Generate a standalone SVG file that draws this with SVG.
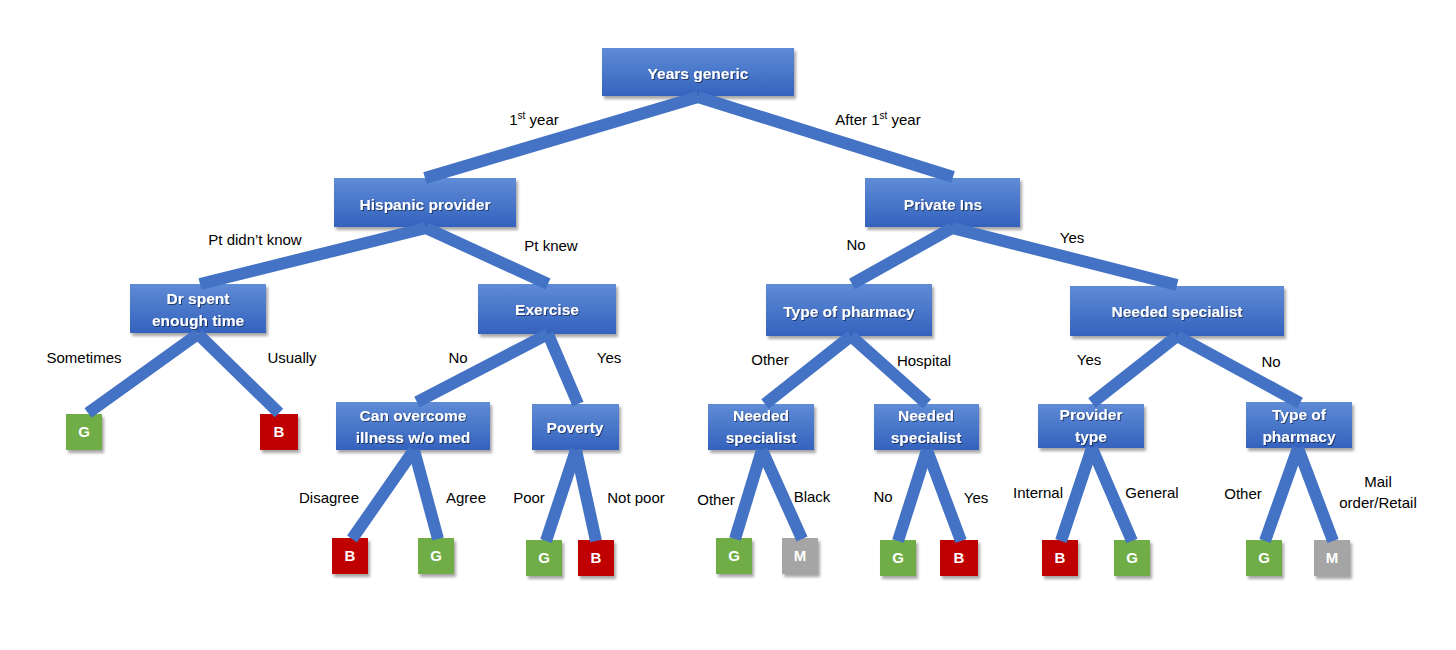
<svg xmlns="http://www.w3.org/2000/svg" width="1456" height="650" viewBox="0 0 1456 650">
<defs>
<linearGradient id="bg" x1="0" y1="0" x2="0" y2="1">
<stop offset="0" stop-color="#5F8BD6"/>
<stop offset="1" stop-color="#3462BD"/>
</linearGradient>
<filter id="sh" x="-10%" y="-10%" width="130%" height="140%">
<feDropShadow dx="2" dy="3" stdDeviation="1.5" flood-color="#000" flood-opacity="0.35"/>
</filter>
<filter id="ts" x="-5%" y="-20%" width="115%" height="150%">
<feDropShadow dx="1" dy="1" stdDeviation="0.6" flood-color="#000" flood-opacity="0.5"/>
</filter>
</defs>
<style>
.box{fill:url(#bg);filter:url(#sh)}
.g{fill:#70AD47;filter:url(#sh)}
.r{fill:#C00000;filter:url(#sh)}
.m{fill:#A5A5A5;filter:url(#sh)}
.nt{font-family:"Liberation Sans",Arial,sans-serif;font-weight:bold;font-size:15.5px;fill:#fff;text-anchor:middle;filter:url(#ts)}
.lt{font-family:"Liberation Sans",Arial,sans-serif;font-weight:bold;font-size:15px;fill:#fff;text-anchor:middle}
.lbl{font-family:"Liberation Sans",Arial,sans-serif;font-size:15px;fill:#000;text-anchor:middle}
.c line{stroke:#4472C4;stroke-width:12}
</style>
<rect width="1456" height="650" fill="#fff"/>

<g id="n-root"><rect class="box" x="602" y="48" width="192" height="48"/><text class="nt" x="698" y="79">Years generic</text></g>
<g id="n-hisp"><rect class="box" x="334" y="178" width="182" height="49"/><text class="nt" x="425" y="210">Hispanic provider</text></g>
<g id="n-priv"><rect class="box" x="865" y="178" width="155" height="49"/><text class="nt" x="943" y="210">Private Ins</text></g>
<g id="n-dr"><rect class="box" x="130" y="284" width="136" height="49"/><text class="nt" x="198" y="304">Dr spent</text><text class="nt" x="198" y="326">enough time</text></g>
<g id="n-ex"><rect class="box" x="478" y="284" width="138" height="50"/><text class="nt" x="547" y="315">Exercise</text></g>
<g id="n-top"><rect class="box" x="766" y="284" width="166" height="52"/><text class="nt" x="849" y="317">Type of pharmacy</text></g>
<g id="n-ns"><rect class="box" x="1070" y="286" width="214" height="50"/><text class="nt" x="1177" y="317">Needed specialist</text></g>
<g id="n-can"><rect class="box" x="336" y="402" width="154" height="48"/><text class="nt" x="413" y="421">Can overcome</text><text class="nt" x="413" y="443">illness w/o med</text></g>
<g id="n-pov"><rect class="box" x="532" y="404" width="87" height="46"/><text class="nt" x="575" y="433">Poverty</text></g>
<g id="n-ns1"><rect class="box" x="708" y="404" width="106" height="46"/><text class="nt" x="761" y="421">Needed</text><text class="nt" x="761" y="443">specialist</text></g>
<g id="n-ns2"><rect class="box" x="874" y="404" width="105" height="46"/><text class="nt" x="926" y="421">Needed</text><text class="nt" x="926" y="443">specialist</text></g>
<g id="n-prov"><rect class="box" x="1038" y="404" width="106" height="44"/><text class="nt" x="1091" y="420">Provider</text><text class="nt" x="1091" y="442">type</text></g>
<g id="n-top2"><rect class="box" x="1246" y="402" width="106" height="46"/><text class="nt" x="1299" y="420">Type of</text><text class="nt" x="1299" y="442">pharmacy</text></g>

<g id="l1"><rect class="g" x="66" y="414" width="36" height="36"/><text class="lt" x="84" y="437">G</text></g>
<g id="l2"><rect class="r" x="260" y="414" width="38" height="36"/><text class="lt" x="279" y="437">B</text></g>
<g id="l3"><rect class="r" x="332" y="538" width="36" height="36"/><text class="lt" x="350" y="561">B</text></g>
<g id="l4"><rect class="g" x="418" y="538" width="36" height="36"/><text class="lt" x="436" y="561">G</text></g>
<g id="l5"><rect class="g" x="526" y="540" width="36" height="36"/><text class="lt" x="544" y="563">G</text></g>
<g id="l6"><rect class="r" x="578" y="540" width="36" height="36"/><text class="lt" x="596" y="563">B</text></g>
<g id="l7"><rect class="g" x="716" y="538" width="36" height="36"/><text class="lt" x="734" y="561">G</text></g>
<g id="l8"><rect class="m" x="782" y="538" width="36" height="36"/><text class="lt" x="800" y="561">M</text></g>
<g id="l9"><rect class="g" x="880" y="540" width="36" height="36"/><text class="lt" x="898" y="563">G</text></g>
<g id="l10"><rect class="r" x="940" y="540" width="38" height="36"/><text class="lt" x="959" y="563">B</text></g>
<g id="l11"><rect class="r" x="1042" y="540" width="36" height="36"/><text class="lt" x="1060" y="563">B</text></g>
<g id="l12"><rect class="g" x="1114" y="540" width="36" height="36"/><text class="lt" x="1132" y="563">G</text></g>
<g id="l13"><rect class="g" x="1246" y="540" width="36" height="36"/><text class="lt" x="1264" y="563">G</text></g>
<g id="l14"><rect class="m" x="1314" y="540" width="36" height="36"/><text class="lt" x="1332" y="563">M</text></g>

<g id="connectors" class="c">
<line x1="698" y1="97" x2="425" y2="178"/>
<line x1="698" y1="97" x2="953" y2="177"/>
<line x1="426" y1="228" x2="200" y2="284"/>
<line x1="426" y1="228" x2="548" y2="284"/>
<line x1="198" y1="334" x2="88" y2="413"/>
<line x1="198" y1="334" x2="279" y2="413"/>
<line x1="548" y1="334" x2="417" y2="402"/>
<line x1="548" y1="334" x2="578" y2="404"/>
<line x1="414" y1="450" x2="352" y2="539"/>
<line x1="414" y1="450" x2="438" y2="539"/>
<line x1="576" y1="450" x2="546" y2="541"/>
<line x1="576" y1="450" x2="596" y2="541"/>
<line x1="952" y1="228" x2="852" y2="284"/>
<line x1="952" y1="228" x2="1177" y2="285"/>
<line x1="851" y1="336" x2="765" y2="404"/>
<line x1="851" y1="336" x2="927" y2="404"/>
<line x1="762" y1="450" x2="735" y2="539"/>
<line x1="762" y1="450" x2="802" y2="539"/>
<line x1="927" y1="450" x2="898" y2="541"/>
<line x1="927" y1="450" x2="961" y2="541"/>
<line x1="1177" y1="336" x2="1092" y2="403"/>
<line x1="1177" y1="336" x2="1300" y2="403"/>
<line x1="1092" y1="448" x2="1061" y2="541"/>
<line x1="1092" y1="448" x2="1132" y2="541"/>
<line x1="1298" y1="448" x2="1265" y2="541"/>
<line x1="1298" y1="448" x2="1333" y2="541"/>
</g>

<g id="labels">
<text class="lbl" x="534" y="125">1<tspan font-size="10" dy="-6">st</tspan><tspan dy="6"> year</tspan></text>
<text class="lbl" x="878" y="125">After 1<tspan font-size="10" dy="-6">st</tspan><tspan dy="6"> year</tspan></text>
<text class="lbl" x="255" y="245">Pt didn’t know</text>
<text class="lbl" x="551" y="251">Pt knew</text>
<text class="lbl" x="856" y="250">No</text>
<text class="lbl" x="1072" y="243">Yes</text>
<text class="lbl" x="84" y="363">Sometimes</text>
<text class="lbl" x="292" y="363">Usually</text>
<text class="lbl" x="458" y="363">No</text>
<text class="lbl" x="609" y="363">Yes</text>
<text class="lbl" x="770" y="365">Other</text>
<text class="lbl" x="924" y="366">Hospital</text>
<text class="lbl" x="1089" y="365">Yes</text>
<text class="lbl" x="1271" y="367">No</text>
<text class="lbl" x="329" y="503">Disagree</text>
<text class="lbl" x="466" y="503">Agree</text>
<text class="lbl" x="529" y="503">Poor</text>
<text class="lbl" x="636" y="503">Not poor</text>
<text class="lbl" x="716" y="505">Other</text>
<text class="lbl" x="812" y="502">Black</text>
<text class="lbl" x="883" y="502">No</text>
<text class="lbl" x="976" y="503">Yes</text>
<text class="lbl" x="1038" y="498">Internal</text>
<text class="lbl" x="1152" y="498">General</text>
<text class="lbl" x="1243" y="499">Other</text>
<text class="lbl" x="1378" y="487">Mail</text>
<text class="lbl" x="1378" y="508">order/Retail</text>
</g>
</svg>
